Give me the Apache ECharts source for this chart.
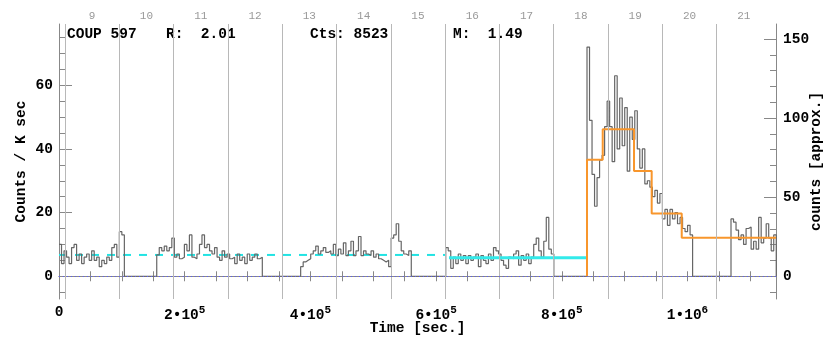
<!DOCTYPE html>
<html>
<head>
<meta charset="utf-8">
<script src="https://cdn.jsdelivr.net/npm/echarts@6/dist/echarts.min.js"></script>
<style>
    html, body { margin: 0; padding: 0; background: #fff; }
    #chart { width: 830px; height: 339px; }
</style>
</head>
<body>
<div id="chart"></div>
<script>
// light curve, COUP 597 (rate in counts / ks, 4 ks bins)
var binWidth = 4000;
var tMax = 1140800;
var segStarts = [0, 155500, 384500, 615300, 840100, 1069200];
var seg1 = [10, 4, 8, 6, 4, 9, 10, 5, 7, 4, 6, 7, 5, 8, 5, 6, 3, 5, 4, 6, 5, 9, 10, 6, 14, 13];
var seg2 = [6.7, 9, 8, 9.5, 8, 9, 12, 6, 7, 5.5, 6, 10, 8, 13, 6, 5.5, 7, 10, 13, 9, 10, 8, 7, 9, 6,
    5, 8, 6, 7, 5.5, 6, 4, 7, 5, 6, 4, 7, 5, 6, 7, 5.5, 6];
var seg3 = [3, 4.5, 5, 5.5, 7, 8, 9.5, 7, 8, 9, 7.5, 8, 7, 10, 6.5, 8.5, 7, 10.5, 6.5, 8, 11, 6.5, 8,
    12.5, 6.5, 8, 7, 6.5, 8, 6, 7, 5.5, 5, 4.5, 5, 3, 12, 13, 16.5, 11, 8, 7, 6.5, 8];
var seg4 = [9, 8, 2.5, 6, 4, 7, 5, 6.5, 4, 6.5, 5, 6, 7, 3, 6.5, 5, 4, 7, 5, 9, 8, 7, 5, 3.5, 2.5,
    6, 5.5, 7, 8, 3.5, 6.5, 5, 7, 4, 6, 10, 12, 8, 6, 11, 18.5, 8.5, 7];
var seg5 = [72, 49, 32, 22, 31, 36.5, 38, 47, 55, 47, 36, 63, 40, 56, 41, 53, 33, 50, 43, 52, 40, 34,
    40, 29, 30, 28, 25, 27, 23, 26, 18, 21, 16, 21, 18, 20, 16.5, 18.5, 15, 14, 16, 13];
var seg6 = [18, 17, 14.5, 11.5, 13, 10, 15, 15.5, 8.5, 11, 8.5, 18.5, 10.5, 12, 16.5, 12, 8, 13];

// mean levels
var quiescentRate = 6.7;
var quiescentSpan = [0, 615300];
var segmentRate = 5.85;
var segmentSpan = [620500, 840100];
var flareEdges = [840100, 865100, 914900, 943000, 990800, 1140800];
var flareRates = [36.6, 46.2, 33.1, 19.7, 12.1];

// day boundaries and labels
var dayBoundaries = [9500, 95900, 182300, 268700, 355100, 441500, 527900, 614300, 700700,
    787100, 873500, 959900, 1046300];
var dayLabels = [9, 10, 11, 12, 13, 14, 15, 16, 17, 18, 19, 20, 21];
var dayMin = 8.3895, dayMax = 21.5932;

// ticks
var leftMajor = [0, 20, 40, 60];
var leftMinor = [-5, 5, 10, 15, 25, 30, 35, 45, 50, 55, 65, 70, 75];
var rightMajor = [0, 50, 100, 150];
var rightMinor = [-10, 10, 20, 30, 40, 60, 70, 80, 90, 110, 120, 130, 140];

var mono = '"Liberation Mono", "DejaVu Sans Mono", monospace';

function buildHist() {
    var segs = [seg1, seg2, seg3, seg4, seg5, seg6];
    var pts = [];
    segs.forEach(function(vals, k) {
        var s = segStarts[k];
        vals.forEach(function(v, i) {
            pts.push([s + i * binWidth, v]);
        });
        pts.push([s + vals.length * binWidth, 0]);
    });
    return pts;
}

function buildFlare() {
    var pts = [[flareEdges[0], 0]];
    flareRates.forEach(function(r, i) {
        pts.push([flareEdges[i], r]);
    });
    pts.push([flareEdges[flareEdges.length - 1], flareRates[flareRates.length - 1]]);
    return pts;
}

function timeLabel(v) {
    if (v % 200000 !== 0) return '';
    if (v === 0) return '{m|0}';
    var e = Math.floor(Math.log10(v) + 1e-9);
    var m = Math.round(v / Math.pow(10, e));
    return '{m|' + m + '\u202210}{s|' + e + '}';
}

var titleStyle = { fontFamily: mono, fontWeight: 'bold', fontSize: 14.5, color: '#000' };

var myChart = echarts.init(document.getElementById('chart'));
var option = {
    animation: false,
    backgroundColor: '#fff',
    grid: { left: 59, right: 54, top: 24, bottom: 40, containLabel: false, outerBoundsMode: 'none' },
    xAxis: [{
        type: 'value', position: 'bottom', min: 0, max: tMax, interval: 50000,
        axisLine: { show: true, lineStyle: { color: '#888', width: 1 } },
        axisTick: { show: true, inside: true, length: 5, lineStyle: { color: '#888' } },
        splitLine: { show: false },
        axisLabel: {
            show: true, margin: 6, formatter: timeLabel,
            rich: {
                m: { fontFamily: mono, fontWeight: 'bold', fontSize: 14.5, color: '#000' },
                s: { fontFamily: mono, fontWeight: 'bold', fontSize: 11, color: '#000', padding: [0, 0, 10, 0] }
            }
        },
        name: 'Time [sec.]', nameLocation: 'middle', nameGap: 22, nameMoveOverlap: false,
        nameTextStyle: titleStyle
    }, {
        type: 'value', position: 'top', min: 0, max: tMax, interval: 50000,
        axisLine: { show: true, lineStyle: { color: '#888', width: 1 } },
        axisTick: { show: true, inside: true, length: 5, lineStyle: { color: '#888' } },
        splitLine: { show: false },
        axisLabel: { show: false }
    }, {
        type: 'value', position: 'top', min: dayMin, max: dayMax,
        axisLine: { show: false }, axisTick: { show: false }, splitLine: { show: false },
        axisLabel: {
            show: true, customValues: dayLabels, margin: 2,
            fontFamily: mono, fontSize: 11, color: '#999'
        }
    }],
    yAxis: [{
        type: 'value', position: 'left', min: -7.14, max: 79.25,
        axisLine: { show: true, lineStyle: { color: '#888', width: 1 } },
        axisTick: { show: true, inside: true, length: 13, customValues: leftMajor, lineStyle: { color: '#888' } },
        splitLine: { show: false },
        axisLabel: {
            show: true, customValues: leftMajor, margin: 6,
            fontFamily: mono, fontWeight: 'bold', fontSize: 14.5, color: '#000'
        },
        name: 'Counts / K sec', nameLocation: 'middle', nameGap: 30, nameRotate: 90, nameMoveOverlap: false,
        nameTextStyle: titleStyle
    }, {
        type: 'value', position: 'left', min: -7.14, max: 79.25,
        axisLine: { show: false },
        axisTick: { show: true, inside: true, length: 7, customValues: leftMinor, lineStyle: { color: '#888' } },
        splitLine: { show: false }, axisLabel: { show: false }
    }, {
        type: 'value', position: 'right', min: -14.37, max: 159.5,
        axisLine: { show: true, lineStyle: { color: '#888', width: 1 } },
        axisTick: { show: true, inside: true, length: 12, customValues: rightMajor, lineStyle: { color: '#888' } },
        splitLine: { show: false },
        axisLabel: {
            show: true, customValues: rightMajor, margin: 7,
            fontFamily: mono, fontWeight: 'bold', fontSize: 14.5, color: '#000'
        },
        name: 'counts [approx.]', nameLocation: 'middle', nameGap: 33, nameRotate: 90, nameMoveOverlap: false,
        nameTextStyle: titleStyle
    }, {
        type: 'value', position: 'right', min: -14.37, max: 159.5,
        axisLine: { show: false },
        axisTick: { show: true, inside: true, length: 6, customValues: rightMinor, lineStyle: { color: '#888' } },
        splitLine: { show: false }, axisLabel: { show: false }
    }],
    graphic: [
        { type: 'text', x: 67, y: 34, style: { text: 'COUP 597', font: 'bold 14.5px ' + mono, fill: '#000', verticalAlign: 'middle' } },
        { type: 'text', x: 166, y: 34, style: { text: 'R:  2.01', font: 'bold 14.5px ' + mono, fill: '#000', verticalAlign: 'middle' } },
        { type: 'text', x: 310, y: 34, style: { text: 'Cts: 8523', font: 'bold 14.5px ' + mono, fill: '#000', verticalAlign: 'middle' } },
        { type: 'text', x: 453, y: 34, style: { text: 'M:  1.49', font: 'bold 14.5px ' + mono, fill: '#000', verticalAlign: 'middle' } }
    ],
    series: [{
        // day boundaries + zero level
        type: 'line', data: [], z: 1, silent: true,
        markLine: {
            silent: true, symbol: 'none', animation: false,
            label: { show: false },
            data: dayBoundaries.map(function(t) {
                return { xAxis: t, lineStyle: { color: '#b8b8b8', width: 1, type: 'solid' } };
            }).concat([{ yAxis: 0, lineStyle: { color: '#5a5aff', width: 1, type: [1, 3] } }])
        }
    }, {
        name: 'quiescent', type: 'line', z: 2, symbol: 'none',
        data: [[quiescentSpan[0], quiescentRate], [quiescentSpan[1], quiescentRate]],
        lineStyle: { color: '#22e3e3', width: 2, type: [8, 8] }
    }, {
        name: 'lightcurve', type: 'line', step: 'end', z: 3, symbol: 'none',
        data: buildHist(),
        lineStyle: { color: '#666', width: 1.2 }
    }, {
        name: 'segment', type: 'line', z: 4, symbol: 'none',
        data: [[segmentSpan[0], segmentRate], [segmentSpan[1], segmentRate]],
        lineStyle: { color: '#33eaea', width: 3 }
    }, {
        name: 'flare', type: 'line', step: 'end', z: 4, symbol: 'none',
        data: buildFlare(),
        lineStyle: { color: '#f8962c', width: 2 }
    }]
};
myChart.setOption(option);
</script>
</body>
</html>
